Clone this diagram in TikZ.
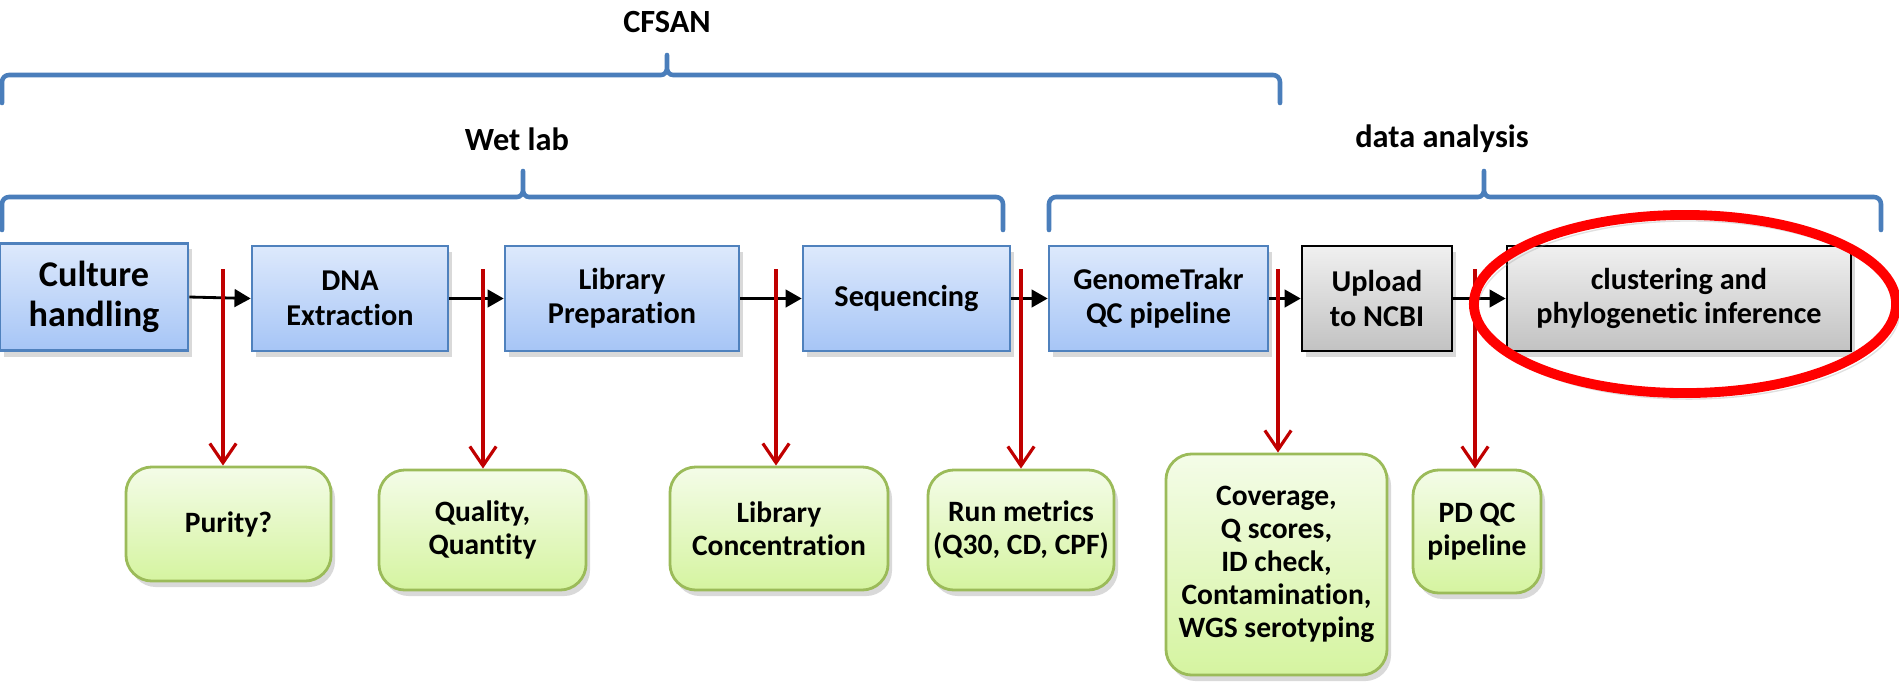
\documentclass[tikz,border=0pt]{standalone}
\usepackage{fontspec}
\setmainfont{Carlito}[Ligatures={NoCommon,NoContextual}]
\usetikzlibrary{arrows.meta,shadows}
\definecolor{bluebord}{HTML}{4F81BD}
\definecolor{bluetop}{HTML}{DDE9FC}
\definecolor{bluebot}{HTML}{A6C5F6}
\definecolor{graytop}{HTML}{F0F0F0}
\definecolor{graybot}{HTML}{C2C2C2}
\definecolor{greentop}{HTML}{F4FCE8}
\definecolor{greenbot}{HTML}{D5F4A0}
\definecolor{greenbord}{HTML}{9BBB59}
\definecolor{bracecol}{HTML}{4A7EBB}
\definecolor{darkred}{HTML}{C00000}
\definecolor{ellred}{HTML}{FF0000}
\newcommand\mybrace[6]{% x1, xtip, x2, ybar, yend, ytop
  \draw[bracestyle] (#1,#5) -- ({#1},{#4+7}) to[out=90,in=180] ({#1+7},{#4})
    -- ({#2-6},{#4}) to[out=0,in=-90] ({#2},{#4-7}) -- (#2,#6)
    -- ({#2},{#4-7}) to[out=-90,in=180] ({#2+6},{#4})
    -- ({#3-7},{#4}) to[out=0,in=90] ({#3},{#4+7}) -- (#3,#5);}
\begin{document}
\begin{tikzpicture}[x=0.01cm,y=-0.01cm,
  bracestyle/.style={draw=bracecol,line width=1.3pt,line join=round,line cap=round},
  lbl/.style={font=\bfseries\fontsize{9.2}{10}\selectfont},
  boxbase/.style={rectangle,align=center,inner sep=0pt,
    font=\bfseries\fontsize{8.6}{9.8}\selectfont,
    drop shadow={shadow xshift=0.4mm,shadow yshift=-0.6mm,opacity=0.3}},
  bluebox/.style={boxbase,draw=bluebord,line width=0.7pt,top color=bluetop,bottom color=bluebot},
  graybox/.style={boxbase,draw=black,line width=0.7pt,top color=graytop,bottom color=graybot},
  greenbox/.style={boxbase,rounded corners=2.6mm,draw=greenbord,line width=0.8pt,
    top color=greentop,bottom color=greenbot,font=\bfseries\fontsize{8.4}{9.4}\selectfont},
  blk/.style={draw=black,line width=0.8pt,-{Triangle[length=4.6pt,width=5pt]}},
  redarr/.style={draw=darkred,line width=0.9pt,-{Straight Barb[length=5.5pt,width=7.5pt,line width=0.9pt]}}
]
\useasboundingbox (0,0) rectangle (1899,681);

% braces and labels
\node[lbl] (cfsan) at (667,22) {CFSAN};
\mybrace{2}{667}{1280}{75}{103}{55}
\node[lbl] (wetlab) at (517,139) {Wet lab};
\mybrace{2}{523}{1003}{197}{230}{171}
\node[lbl] (data) at (1442,139) {data analysis};
\mybrace{1049}{1484}{1881}{197}{230}{171}

% top row
\node[bluebox,minimum width=18.8mm,minimum height=10.7mm,
  font=\bfseries\fontsize{10.3}{11.3}\selectfont] (cult) at (94,297) {Culture\\handling};
\node[bluebox,minimum width=19.6mm,minimum height=10.5mm] (dna) at (350,298.5) {DNA\\Extraction};
\node[bluebox,minimum width=23.4mm,minimum height=10.5mm] (lib) at (622,298.5) {Library\\Preparation};
\node[bluebox,minimum width=20.7mm,minimum height=10.5mm] (seq) at (906.5,298.5) {Sequencing};
\node[bluebox,minimum width=21.9mm,minimum height=10.5mm] (gt) at (1158.5,298.5) {GenomeTrakr\\QC pipeline};
\node[graybox,minimum width=15.0mm,minimum height=10.5mm] (up) at (1377,298.5) {Upload\\to NCBI};
\node[graybox,minimum width=34.4mm,minimum height=10.5mm] (clu) at (1679,298.5) {clustering and\\phylogenetic inference};

% bottom row
\node[greenbox,minimum width=20.5mm,minimum height=11.4mm] (pur) at (228.5,524) {Purity?};
\node[greenbox,minimum width=20.7mm,minimum height=12.0mm] (qua) at (482.5,530) {Quality,\\Quantity};
\node[greenbox,minimum width=21.8mm,minimum height=12.3mm] (lc) at (779,528.5) {Library\\Concentration};
\node[greenbox,minimum width=18.6mm,minimum height=12.0mm] (run) at (1021,530) {Run metrics\\(Q30, CD, CPF)};
\node[greenbox,minimum width=22.1mm,minimum height=22.1mm] (cov) at (1276.5,564.5) {Coverage,\\Q scores,\\ID check,\\Contamination,\\WGS serotyping};
\node[greenbox,minimum width=12.8mm,minimum height=12.3mm] (pd) at (1477,531.5) {PD QC\\pipeline};

% black flow arrows
\draw[blk] (cult.east) -- (dna.west);
\draw[blk] (dna) -- (lib);
\draw[blk] (lib) -- (seq);
\draw[blk] (seq) -- (gt);
\draw[blk] (gt) -- (up);
\draw[blk] (up) -- (clu);

% red QC arrows
\coordinate (r1) at (223,269);
\coordinate (r2) at (483,269);
\coordinate (r3) at (776,269);
\coordinate (r4) at (1021,269);
\coordinate (r5) at (1278,269);
\coordinate (r6) at (1475,269);
\draw[redarr] (r1) -- (r1 |- pur.north);
\draw[redarr] (r2) -- (r2 |- qua.north);
\draw[redarr] (r3) -- (r3 |- lc.north);
\draw[redarr] (r4) -- (r4 |- run.north);
\draw[redarr] (r5) -- (r5 |- cov.north);
\draw[redarr] (r6) -- (r6 |- pd.north);

% highlight ellipse
\draw[draw=ellred,line width=2.8pt,drop shadow={shadow xshift=0.4mm,shadow yshift=-0.6mm,opacity=0.3,fill=none,draw=black!40}]
  (1685,304) ellipse [x radius=21.1mm,y radius=8.9mm];
\end{tikzpicture}
\end{document}
